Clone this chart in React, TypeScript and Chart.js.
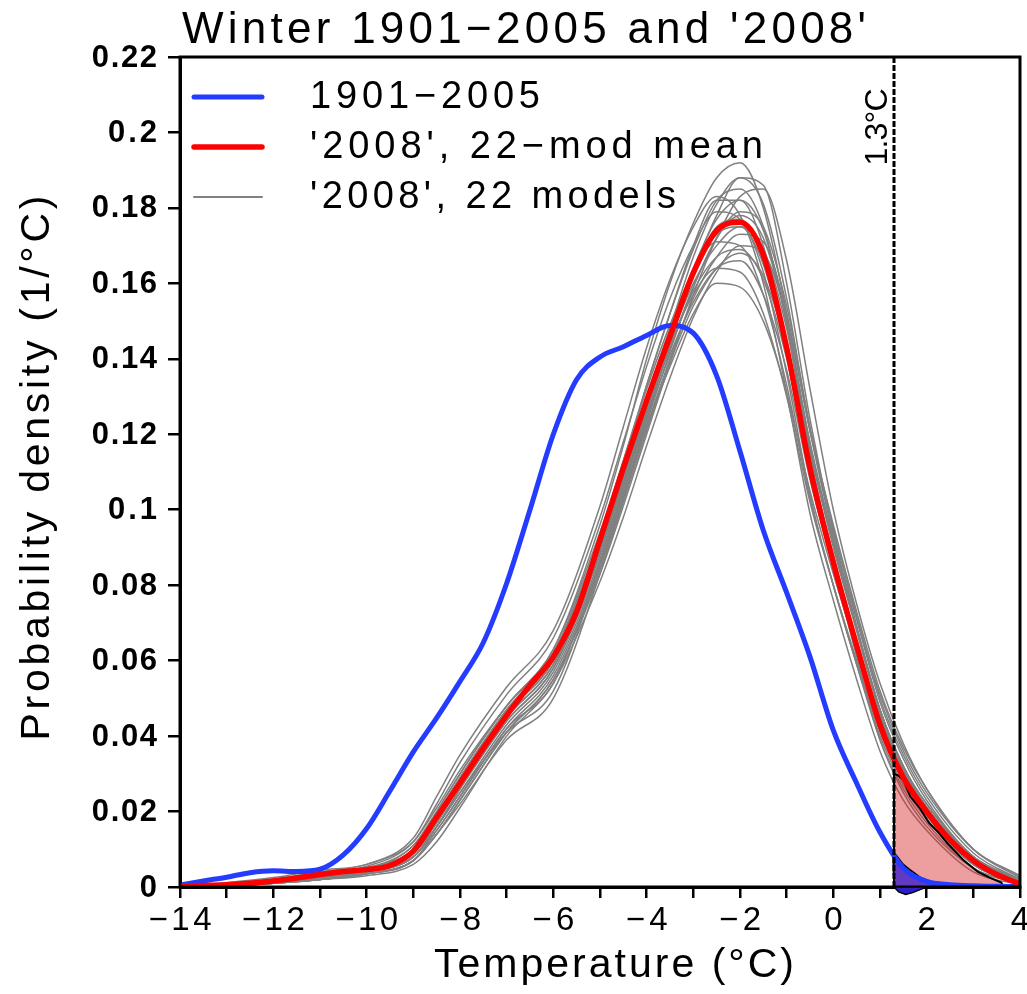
import { useEffect, useRef } from 'react';
import { Chart, registerables } from 'chart.js';

Chart.register(...registerables);

const W = 1027;
const H = 994;

// ---------- data ----------
const TEMPS = [
  -14, -13.5, -13, -12.5, -12, -11.5, -11, -10.5, -10, -9.5, -9, -8.5, -8, -7.5, -7, -6.5, -6, -5.5, -5,
  -4.5, -4, -3.5, -3, -2.5, -2, -1.5, -1, -0.5, 0, 0.5, 1, 1.5, 2, 2.5, 3, 3.5, 4,
];

const BLUE_1901_2005 = [
  0.0005, 0.0016, 0.0026, 0.0038, 0.0043, 0.0041, 0.0047, 0.0085, 0.0155, 0.0255, 0.0358, 0.0448, 0.0545,
  0.0648, 0.0805, 0.1, 0.12, 0.1345, 0.1405, 0.1432, 0.1462, 0.1488, 0.1468, 0.1355, 0.1155, 0.0945, 0.078,
  0.061, 0.0415, 0.0275, 0.0145, 0.005, 0.0015, 0.0006, 0.0003, 0.0002, 0.0001,
];

const RED_MEAN_2008 = [
  0.0002, 0.0004, 0.0006, 0.001, 0.0016, 0.0024, 0.0033, 0.0041, 0.0046, 0.0057, 0.0095, 0.0185, 0.0275,
  0.0368, 0.0455, 0.0535, 0.061, 0.073, 0.092, 0.111, 0.129, 0.146, 0.1628, 0.174, 0.1762, 0.1675, 0.143,
  0.111, 0.086, 0.064, 0.043, 0.029, 0.02, 0.0125, 0.007, 0.0033, 0.0008,
];

const MODEL_TEMPS = [
  -14, -12, -11, -10, -9, -8.5, -8, -7, -6, -5, -4.5, -4, -3.5, -3, -2.5, -2, -1.5, -1, -0.5, 0, 0.5, 1, 1.5,
  2, 3, 4,
];

const MODELS_2008: number[][] = [
  [0, 0.001, 0.0025, 0.0045, 0.011, 0.02, 0.03, 0.048, 0.063, 0.096, 0.117, 0.14, 0.16, 0.176, 0.188, 0.192, 0.18, 0.152, 0.115, 0.086, 0.061, 0.039, 0.025, 0.016, 0.005, 0.001],
  [0, 0.001, 0.002, 0.004, 0.008, 0.016, 0.026, 0.044, 0.058, 0.087, 0.106, 0.126, 0.145, 0.163, 0.178, 0.188, 0.186, 0.16, 0.124, 0.094, 0.069, 0.047, 0.032, 0.021, 0.008, 0.0015],
  [0, 0.0015, 0.003, 0.0045, 0.009, 0.018, 0.028, 0.046, 0.06, 0.09, 0.109, 0.129, 0.148, 0.167, 0.181, 0.188, 0.181, 0.156, 0.121, 0.093, 0.069, 0.047, 0.032, 0.021, 0.007, 0.001],
  [0, 0.0015, 0.003, 0.005, 0.01, 0.019, 0.029, 0.047, 0.062, 0.093, 0.113, 0.133, 0.152, 0.17, 0.182, 0.182, 0.17, 0.144, 0.111, 0.087, 0.064, 0.043, 0.029, 0.019, 0.006, 0.001],
  [0, 0.001, 0.002, 0.0035, 0.007, 0.014, 0.023, 0.041, 0.055, 0.083, 0.101, 0.12, 0.139, 0.157, 0.172, 0.183, 0.185, 0.166, 0.132, 0.1, 0.075, 0.054, 0.038, 0.026, 0.01, 0.0025],
  [0, 0.002, 0.0035, 0.005, 0.01, 0.019, 0.029, 0.047, 0.061, 0.091, 0.11, 0.13, 0.148, 0.164, 0.177, 0.182, 0.174, 0.15, 0.117, 0.091, 0.068, 0.046, 0.031, 0.021, 0.007, 0.001],
  [0, 0.002, 0.004, 0.0055, 0.012, 0.022, 0.033, 0.051, 0.066, 0.098, 0.118, 0.138, 0.156, 0.17, 0.179, 0.177, 0.163, 0.136, 0.104, 0.08, 0.059, 0.039, 0.026, 0.017, 0.005, 0.0008],
  [0, 0.0015, 0.003, 0.0045, 0.009, 0.017, 0.027, 0.045, 0.059, 0.088, 0.106, 0.125, 0.143, 0.159, 0.172, 0.178, 0.172, 0.15, 0.118, 0.092, 0.069, 0.047, 0.032, 0.022, 0.008, 0.0015],
  [0, 0.001, 0.0025, 0.004, 0.008, 0.016, 0.026, 0.044, 0.058, 0.089, 0.108, 0.128, 0.146, 0.162, 0.173, 0.175, 0.165, 0.141, 0.109, 0.085, 0.063, 0.043, 0.029, 0.019, 0.006, 0.001],
  [0, 0.001, 0.002, 0.0035, 0.007, 0.015, 0.024, 0.042, 0.056, 0.085, 0.103, 0.122, 0.14, 0.156, 0.167, 0.173, 0.171, 0.152, 0.121, 0.095, 0.072, 0.05, 0.035, 0.024, 0.009, 0.002],
  [0, 0.002, 0.0035, 0.005, 0.011, 0.02, 0.03, 0.048, 0.063, 0.094, 0.113, 0.132, 0.149, 0.163, 0.171, 0.17, 0.157, 0.133, 0.103, 0.08, 0.059, 0.04, 0.027, 0.018, 0.006, 0.001],
  [0, 0.0015, 0.003, 0.0045, 0.009, 0.017, 0.027, 0.045, 0.059, 0.089, 0.107, 0.126, 0.143, 0.158, 0.167, 0.169, 0.161, 0.14, 0.11, 0.086, 0.065, 0.045, 0.031, 0.021, 0.007, 0.0015],
  [0, 0.001, 0.002, 0.0035, 0.007, 0.014, 0.023, 0.041, 0.055, 0.084, 0.102, 0.121, 0.139, 0.154, 0.164, 0.168, 0.162, 0.143, 0.115, 0.092, 0.071, 0.051, 0.036, 0.025, 0.01, 0.003],
  [0, 0.002, 0.004, 0.006, 0.012, 0.021, 0.031, 0.048, 0.062, 0.092, 0.11, 0.128, 0.144, 0.157, 0.164, 0.163, 0.152, 0.13, 0.102, 0.08, 0.06, 0.041, 0.028, 0.019, 0.006, 0.001],
  [0, 0.0015, 0.003, 0.0045, 0.009, 0.016, 0.025, 0.041, 0.052, 0.085, 0.104, 0.122, 0.138, 0.152, 0.16, 0.159, 0.15, 0.131, 0.105, 0.083, 0.063, 0.044, 0.031, 0.021, 0.008, 0.002],
  [0, 0.0025, 0.0045, 0.006, 0.013, 0.024, 0.035, 0.053, 0.068, 0.101, 0.122, 0.143, 0.161, 0.175, 0.183, 0.178, 0.16, 0.131, 0.099, 0.076, 0.055, 0.036, 0.023, 0.015, 0.004, 0.0006],
  [0, 0.001, 0.002, 0.0035, 0.007, 0.014, 0.022, 0.039, 0.05, 0.083, 0.103, 0.124, 0.144, 0.162, 0.175, 0.177, 0.166, 0.142, 0.11, 0.086, 0.064, 0.044, 0.03, 0.02, 0.007, 0.001],
  [0, 0.0015, 0.0025, 0.004, 0.008, 0.016, 0.025, 0.043, 0.057, 0.086, 0.104, 0.123, 0.142, 0.159, 0.172, 0.179, 0.175, 0.154, 0.122, 0.095, 0.071, 0.049, 0.034, 0.023, 0.008, 0.0015],
  [0, 0.0015, 0.003, 0.0045, 0.009, 0.018, 0.028, 0.046, 0.06, 0.09, 0.108, 0.127, 0.145, 0.16, 0.17, 0.175, 0.169, 0.148, 0.116, 0.09, 0.068, 0.047, 0.032, 0.022, 0.008, 0.0015],
  [0, 0.001, 0.002, 0.003, 0.006, 0.012, 0.021, 0.04, 0.054, 0.081, 0.098, 0.117, 0.135, 0.151, 0.163, 0.17, 0.168, 0.151, 0.121, 0.096, 0.073, 0.052, 0.037, 0.026, 0.01, 0.0025],
  [0, 0.0015, 0.003, 0.0045, 0.009, 0.018, 0.028, 0.046, 0.061, 0.092, 0.112, 0.133, 0.152, 0.169, 0.182, 0.185, 0.175, 0.149, 0.114, 0.088, 0.065, 0.044, 0.029, 0.019, 0.006, 0.001],
  [0, 0.001, 0.0025, 0.004, 0.008, 0.015, 0.024, 0.042, 0.054, 0.086, 0.105, 0.124, 0.141, 0.155, 0.164, 0.166, 0.157, 0.137, 0.108, 0.085, 0.064, 0.045, 0.031, 0.021, 0.008, 0.0015],
];

// shaded tail beyond the threshold
const THRESHOLD = 1.3;
const RED_TAIL_T = [1.3, 1.3, 1.4, 1.5, 1.65, 1.85, 2.05, 2.25, 2.45, 2.8, 3.1, 3.35, 3.6, 3.65];
const RED_TAIL_V = [0, 0.03, 0.0295, 0.0284, 0.024, 0.021, 0.017, 0.0145, 0.0115, 0.007, 0.004, 0.0025, 0.0012, 0];
const BLUE_TAIL_T = [1.3, 1.3, 1.5, 1.75, 2.0, 2.2, 2.35];
const BLUE_TAIL_V = [0, 0.0088, 0.006, 0.0036, 0.0014, 0.0004, 0];
const BLUE_DIP_T = [1.3, 1.4, 1.55, 1.7, 1.9, 2.05];
const BLUE_DIP_V = [0, -0.0013, -0.002, -0.0015, -0.0005, 0];

const X_TICK_VALUES = [-14, -12, -10, -8, -6, -4, -2, 0, 2, 4];
const X_TICK_LABELS = ['−14', '−12', '−10', '−8', '−6', '−4', '−2', '0', '2', '4'];
const Y_TICK_VALUES = [0, 0.02, 0.04, 0.06, 0.08, 0.1, 0.12, 0.14, 0.16, 0.18, 0.2, 0.22];
const Y_TICK_LABELS = ['0', '0.02', '0.04', '0.06', '0.08', '0.1', '0.12', '0.14', '0.16', '0.18', '0.2', '0.22'];

const TITLE = "Winter 1901−2005 and '2008'";
const X_TITLE = 'Temperature (°C)';
const Y_TITLE = 'Probability density (1/°C)';
const THRESHOLD_LABEL = '1.3°C';
const LEGEND_LABELS = ['1901−2005', "'2008', 22−mod mean", "'2008', 22 models"];
const LEGEND_COLORS = ['rgb(35,60,255)', '#ff0000', '#808080'];
const LEGEND_WIDTHS = [5, 5.5, 2];

const FONT = '"Liberation Sans", Arial, sans-serif';

function spacedText(
  ctx: CanvasRenderingContext2D,
  text: string,
  x: number,
  y: number,
  font: string,
  width: number,
  align: 'left' | 'center' | 'right',
) {
  ctx.save();
  ctx.font = font;
  (ctx as any).letterSpacing = '0px';
  const w0 = ctx.measureText(text).width;
  const n = Array.from(text).length;
  const ls = n > 1 ? (width - w0) / (n - 1) : 0;
  (ctx as any).letterSpacing = ls + 'px';
  const real = w0 + ls * (n - 1);
  const sx = align === 'left' ? x : align === 'center' ? x - real / 2 : x - real;
  ctx.textAlign = 'left';
  ctx.fillText(text, sx, y);
  ctx.restore();
}

const decorPlugin = {
  id: 'decor',
  afterDatasetsDraw(chart: any) {
    const { ctx, chartArea: a, scales } = chart;
    const px = scales.x.getPixelForValue(THRESHOLD);
    ctx.save();
    ctx.strokeStyle = '#000';
    ctx.lineWidth = 3;
    ctx.setLineDash([6, 2]);
    ctx.beginPath();
    ctx.moveTo(px, a.top);
    ctx.lineTo(px, a.bottom);
    ctx.stroke();
    ctx.restore();

    ctx.save();
    ctx.fillStyle = '#000';
    ctx.translate(px - 16, 127);
    ctx.rotate(-Math.PI / 2);
    ctx.textBaseline = 'middle';
    spacedText(ctx, THRESHOLD_LABEL, 0, 0, `32px ${FONT}`, 77, 'center');
    ctx.restore();
  },
  afterDraw(chart: any) {
    const { ctx, chartArea: a, scales } = chart;
    ctx.save();
    // frame
    ctx.strokeStyle = '#000';
    ctx.lineWidth = 3;
    ctx.strokeRect(a.left, a.top, a.right - a.left, a.bottom - a.top);

    // small lobe of the blue tail below the axis
    ctx.beginPath();
    BLUE_DIP_T.forEach((t, i) => {
      const x = scales.x.getPixelForValue(t);
      const y = scales.y.getPixelForValue(BLUE_DIP_V[i]);
      if (i === 0) ctx.moveTo(x, y);
      else ctx.lineTo(x, y);
    });
    ctx.closePath();
    ctx.fillStyle = 'rgb(45,30,200)';
    ctx.fill();
    ctx.lineWidth = 1.5;
    ctx.strokeStyle = '#000';
    ctx.stroke();

    ctx.fillStyle = '#000';
    // y tick labels
    ctx.textBaseline = 'middle';
    Y_TICK_VALUES.forEach((v, i) => {
      const py = scales.y.getPixelForValue(v);
      spacedText(ctx, Y_TICK_LABELS[i], 157, py + 1, `bold 31px ${FONT}`, Y_TICK_LABELS[i].length * 16.3, 'right');
    });
    // x tick labels
    X_TICK_VALUES.forEach((v, i) => {
      const px = scales.x.getPixelForValue(v);
      const lab = X_TICK_LABELS[i];
      const w = lab.length === 1 ? 19 : lab.length === 2 ? 42 : 63;
      spacedText(ctx, lab, px, 921, `33px ${FONT}`, w, 'center');
    });
    // axis titles
    spacedText(ctx, X_TITLE, 614, 966, `41px ${FONT}`, 360, 'center');
    ctx.save();
    ctx.translate(38, 468);
    ctx.rotate(-Math.PI / 2);
    spacedText(ctx, Y_TITLE, 0, 0, `41px ${FONT}`, 545, 'center');
    ctx.restore();

    // title
    ctx.textBaseline = 'alphabetic';
    spacedText(ctx, TITLE, 182, 43, `44px ${FONT}`, 684, 'left');

    // legend
    const rows = [97, 147, 197];
    const widths = [230, 453, 366];
    LEGEND_LABELS.forEach((lab, i) => {
      ctx.save();
      ctx.strokeStyle = LEGEND_COLORS[i];
      ctx.lineWidth = LEGEND_WIDTHS[i];
      ctx.lineCap = 'round';
      ctx.beginPath();
      ctx.moveTo(194, rows[i]);
      ctx.lineTo(262, rows[i]);
      ctx.stroke();
      ctx.restore();
      ctx.textBaseline = 'middle';
      spacedText(ctx, lab, 310, rows[i] + 1, `38px ${FONT}`, widths[i], 'left');
    });
    ctx.restore();
  },
};

function pts(xs: number[], ys: number[]) {
  return xs.map((x, i) => ({ x, y: ys[i] }));
}

export default function App() {
  const ref = useRef<HTMLCanvasElement | null>(null);

  useEffect(() => {
    if (!ref.current) return;
    const modelSets = MODELS_2008.map((vals, i) => ({
      label: `model ${i + 1}`,
      data: pts(MODEL_TEMPS, vals),
      borderColor: '#808080',
      borderWidth: 1.5,
      pointRadius: 0,
      cubicInterpolationMode: 'monotone' as const,
      fill: false,
      order: 4,
    }));
    const chart = new Chart(ref.current, {
      type: 'line',
      data: {
        datasets: [
          {
            label: "'2008', 22-mod mean",
            data: pts(TEMPS, RED_MEAN_2008),
            borderColor: '#ff0000',
            borderWidth: 5.5,
            pointRadius: 0,
            cubicInterpolationMode: 'monotone',
            fill: false,
            order: 0,
          },
          {
            label: '1901-2005',
            data: pts(TEMPS, BLUE_1901_2005),
            borderColor: 'rgb(35,60,255)',
            borderWidth: 5,
            pointRadius: 0,
            cubicInterpolationMode: 'monotone',
            fill: false,
            order: 1,
          },
          {
            label: 'blue tail',
            data: pts(BLUE_TAIL_T, BLUE_TAIL_V),
            borderColor: '#000',
            borderWidth: 1.5,
            backgroundColor: 'rgba(45,20,205,0.72)',
            pointRadius: 0,
            tension: 0.3,
            fill: 'origin',
            order: 2,
          },
          {
            label: 'red tail',
            data: pts(RED_TAIL_T, RED_TAIL_V),
            borderColor: '#000',
            borderWidth: 2,
            backgroundColor: 'rgba(215,40,40,0.45)',
            pointRadius: 0,
            tension: 0,
            fill: 'origin',
            order: 3,
          },
          ...modelSets,
        ] as any,
      },
      options: {
        animation: false,
        responsive: false,
        devicePixelRatio: 1,
        events: [],
        layout: { padding: { top: 57, right: 7, left: 0, bottom: 0 }, autoPadding: false } as any,
        plugins: { legend: { display: false }, tooltip: { enabled: false }, title: { display: false } },
        scales: {
          x: {
            type: 'linear',
            min: -14,
            max: 4,
            ticks: { stepSize: 1, display: false, autoSkip: false },
            grid: { drawOnChartArea: false, drawTicks: true, tickLength: 11, lineWidth: 2.5, color: '#000' },
            border: { display: true, width: 3, color: '#000' },
            afterFit: (s: any) => {
              s.height = 107;
              s.paddingLeft = 0;
              s.paddingRight = 0;
            },
          },
          y: {
            type: 'linear',
            min: 0,
            max: 0.22,
            ticks: { stepSize: 0.02, display: false, autoSkip: false },
            grid: { drawOnChartArea: false, drawTicks: true, tickLength: 12, lineWidth: 2.5, color: '#000' },
            border: { display: true, width: 3, color: '#000' },
            afterFit: (s: any) => {
              s.width = 180;
              s.paddingTop = 0;
              s.paddingBottom = 0;
            },
          },
        },
      },
      plugins: [decorPlugin],
    });
    return () => chart.destroy();
  }, []);

  return (
    <div style={{ position: 'fixed', left: 0, top: 0, width: W, height: H, background: '#fff' }}>
      <canvas ref={ref} width={W} height={H} style={{ width: W, height: H, display: 'block' }} />
    </div>
  );
}
